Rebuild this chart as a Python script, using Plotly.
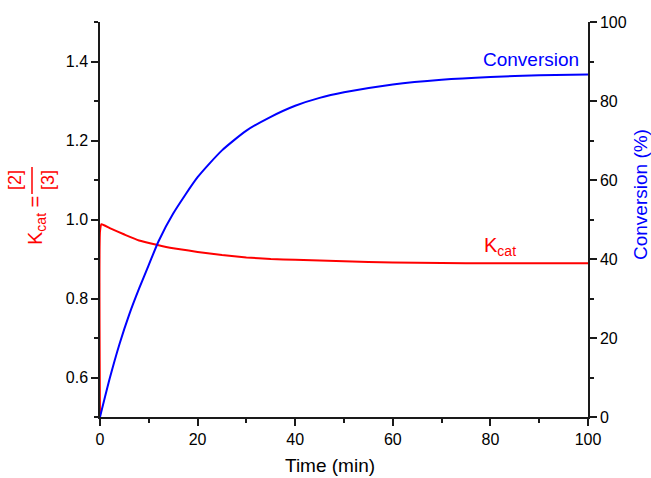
import plotly.graph_objects as go

# ---- data ----
time_conv = [0, 2, 4, 6, 8, 10, 12, 15, 20, 25, 30, 35, 40, 45, 50, 60, 70, 80, 90, 100]
conversion = [0, 9.8, 18.5, 26.0, 32.5, 38.5, 44.5, 51.5, 60.7, 67.5, 72.5, 76.0,
              78.8, 80.8, 82.2, 84.2, 85.4, 86.1, 86.5, 86.7]

time_kcat = [0, 0, 0.3, 2, 5, 8, 11.6, 15, 20, 25, 30, 35, 40, 50, 60, 70, 80, 90, 100]
kcat = [0.5, 0.97, 0.988, 0.978, 0.962, 0.947, 0.936, 0.927, 0.918, 0.910, 0.904,
        0.900, 0.898, 0.894, 0.891, 0.890, 0.889, 0.889, 0.889]

x_ticks = [0, 20, 40, 60, 80, 100]
left_ticks = [0.6, 0.8, 1.0, 1.2, 1.4]
right_ticks = [0, 20, 40, 60, 80, 100]

FONT = "Arial, Liberation Sans, sans-serif"
RED = "#FF0000"
BLUE = "#0000FF"
AX = "#1a1a1a"

W, H = 651, 478
L, R, T, B = 100, 63, 22, 61
PW, PH = W - L - R, H - T - B
X0, Y1 = L, H - B  # pixel of plot-area left / bottom


def px(x):
    return (x - X0) / PW


def py(y):
    return (Y1 - y) / PH


fig = go.Figure()
fig.add_trace(go.Scatter(x=time_kcat, y=kcat, mode="lines",
                         line=dict(color=RED, width=2, shape="spline", smoothing=0.5),
                         yaxis="y", showlegend=False))
fig.add_trace(go.Scatter(x=time_conv, y=conversion, mode="lines",
                         line=dict(color=BLUE, width=2, shape="spline", smoothing=0.6),
                         yaxis="y2", showlegend=False))

axis_common = dict(showline=True, linecolor=AX, linewidth=1.5, ticks="outside",
                   ticklen=7, tickwidth=1.5, tickcolor=AX, showgrid=False, zeroline=False,
                   tickfont=dict(family=FONT, size=16, color="black"))

fig.update_layout(
    width=W, height=H,
    margin=dict(l=L, r=R, t=T, b=B),
    paper_bgcolor="white", plot_bgcolor="white",
    font=dict(family=FONT),
    xaxis=dict(range=[0, 100], tickvals=x_ticks, ticktext=[str(v) for v in x_ticks],
               minor=dict(dtick=10, ticks="outside", ticklen=4, tickwidth=1.5, tickcolor=AX),
               **axis_common),
    yaxis=dict(range=[0.5, 1.5], tickvals=left_ticks, ticktext=[f"{v:.1f}" for v in left_ticks],
               minor=dict(tick0=0.5, dtick=0.1, ticks="outside", ticklen=4, tickwidth=1.5, tickcolor=AX),
               **axis_common),
    yaxis2=dict(range=[0, 100], tickvals=right_ticks, ticktext=[str(v) for v in right_ticks],
                overlaying="y", side="right", anchor="x",
                minor=dict(dtick=10, ticks="outside", ticklen=4, tickwidth=1.5, tickcolor=AX),
                **axis_common),
)

ann = []
# x axis title
ann.append(dict(text="Time (min)", x=px(330), y=py(465), xref="paper", yref="paper",
                xanchor="center", yanchor="middle", showarrow=False,
                font=dict(family=FONT, size=19, color="black")))
# right axis title
ann.append(dict(text="Conversion (%)", x=px(640), y=py(195), xref="paper", yref="paper",
                xanchor="center", yanchor="middle", showarrow=False, textangle=-90,
                font=dict(family=FONT, size=19, color=BLUE)))
# left axis title: K_cat = [2]/[3]
ann.append(dict(text="K<sub>cat</sub> =", x=px(36), y=py(221), xref="paper", yref="paper",
                xanchor="center", yanchor="middle", showarrow=False, textangle=-90,
                font=dict(family=FONT, size=20, color=RED)))
ann.append(dict(text="[2]", x=px(15), y=py(180), xref="paper", yref="paper",
                xanchor="center", yanchor="middle", showarrow=False, textangle=-90,
                font=dict(family=FONT, size=18, color=RED)))
ann.append(dict(text="[3]", x=px(48), y=py(180), xref="paper", yref="paper",
                xanchor="center", yanchor="middle", showarrow=False, textangle=-90,
                font=dict(family=FONT, size=18, color=RED)))
# curve labels
ann.append(dict(text="Conversion", x=px(581), y=py(60), xref="paper", yref="paper",
                xanchor="right", yanchor="middle", showarrow=False,
                font=dict(family=FONT, size=19, color=BLUE)))
ann.append(dict(text="K<sub>cat</sub>", x=px(482), y=py(246), xref="paper", yref="paper",
                xanchor="left", yanchor="middle", showarrow=False,
                font=dict(family=FONT, size=20, color=RED)))
fig.update_layout(annotations=ann)

# fraction bar
fig.add_shape(type="line", xref="paper", yref="paper",
              x0=px(32), x1=px(32), y0=py(167), y1=py(194),
              line=dict(color=RED, width=1.5))

fig.write_html("out.html", config={"displayModeBar": False},
               post_script="document.body.style.margin='0';document.body.style.overflow='hidden';")
